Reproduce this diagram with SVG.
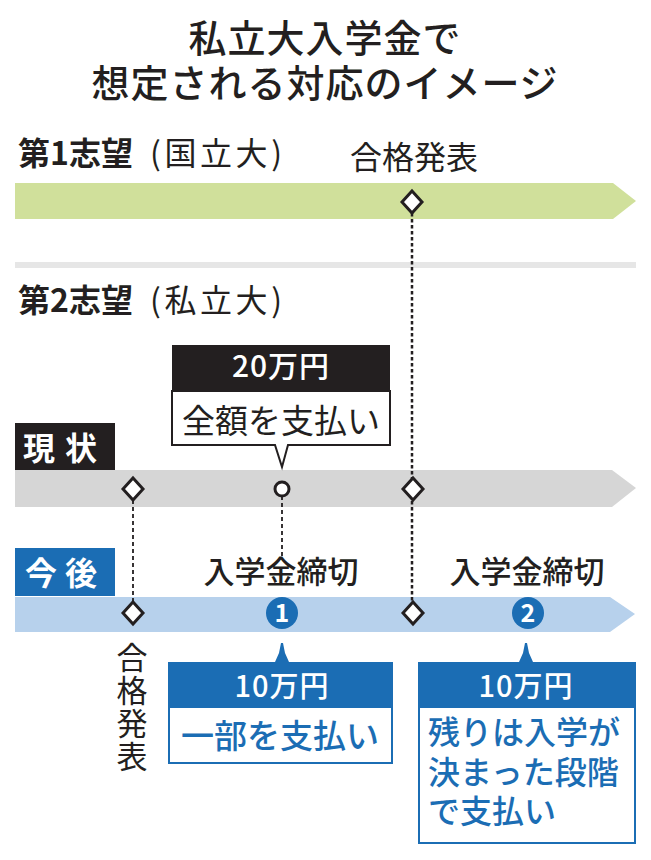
<svg xmlns="http://www.w3.org/2000/svg" width="651" height="860" viewBox="0 0 651 860">
<defs>
<style>
text{font-family:"Noto Sans CJK JP","Noto Sans",sans-serif;fill:#231f20}
.t{font-size:38px;font-weight:500;text-anchor:middle}
.h{font-size:32px;font-weight:700}
.p{font-size:32px;font-weight:400}
.lab{font-size:32px;font-weight:400;text-anchor:middle}
.lab2{font-size:31px;font-weight:500;text-anchor:middle}
.w{fill:#fff}
.blue{fill:#1b6db4}
.dia{fill:#fff;stroke:#231f20;stroke-width:3;stroke-linejoin:miter}
.dot{fill:none;stroke:#231f20;stroke-width:2.5;stroke-dasharray:3.5 2.5}
.dash{fill:none;stroke:#231f20;stroke-width:1.8;stroke-dasharray:4 3}
</style>
<path id="d" d="M0,-11 L10,0 L0,11 L-10,0 Z"/>
</defs>
<rect width="651" height="860" fill="#fff"/>

<g id="title">
<text class="t" x="325" y="52" letter-spacing="1">私立大入学金で</text>
<text class="t" x="325" y="97" letter-spacing="1">想定される対応のイメージ</text>
</g>

<g id="track1">
<text class="h" x="18" y="165">第1志望</text>
<text class="p" x="150" y="165" textLength="132" lengthAdjust="spacing">(国立大)</text>
<text class="lab" x="414" y="169">合格発表</text>
<polygon points="15,183 613,183 636,201 613,219 15,219" fill="#d0e09b"/>
</g>

<rect id="separator" x="15" y="262" width="621" height="6" fill="#e6e6e6"/>

<g id="track2-label">
<text class="h" x="18" y="312">第2志望</text>
<text class="p" x="150" y="312" textLength="132" lengthAdjust="spacing">(私立大)</text>
</g>

<g id="current-bar">
<rect x="15" y="423" width="100" height="47" fill="#231f20"/>
<text class="h w" x="65" y="460" text-anchor="middle" letter-spacing="10">現状</text>
<polygon points="15,470 612,470 636,488 612,507 15,507" fill="#d6d6d6"/>
</g>

<g id="future-bar">
<rect x="15" y="548" width="100" height="48" fill="#1b6db4"/>
<text class="h w" x="65" y="585" text-anchor="middle" letter-spacing="8">今後</text>
<polygon points="15,597 610,597 635,614 610,632 15,632" fill="#b7d1ec"/>
</g>

<g id="connectors">
<line class="dot" x1="412" y1="213" x2="412" y2="602"/>
<line class="dash" x1="133" y1="500" x2="133" y2="602"/>
<line class="dash" x1="282" y1="496" x2="282" y2="556"/>
</g>

<g id="markers">
<use href="#d" class="dia" x="412" y="202"/>
<use href="#d" class="dia" x="133" y="489"/>
<use href="#d" class="dia" x="413" y="489"/>
<circle cx="282" cy="489" r="7" fill="#fff" stroke="#231f20" stroke-width="3"/>
<use href="#d" class="dia" x="133" y="613"/>
<use href="#d" class="dia" x="413" y="613"/>
</g>

<g id="box-20man">
<rect x="172" y="345" width="218" height="46" fill="#231f20"/>
<path d="M172,391 V445 H275 L282,467 L288,445 H390 V391 Z" fill="#fff" stroke="#231f20" stroke-width="2"/>
<text class="w" x="281" y="377" font-size="30" font-weight="500" text-anchor="middle" letter-spacing="1">20万円</text>
<text x="281" y="433" font-size="33" font-weight="400" text-anchor="middle">全額を支払い</text>
</g>

<g id="deadline1">
<text class="lab2" x="281" y="583">入学金締切</text>
<circle cx="282" cy="613" r="16" fill="#1b6db4"/>
<text class="w" x="282" y="622" font-size="25" font-weight="700" text-anchor="middle">1</text>
</g>

<g id="deadline2">
<text class="lab2" x="527" y="583">入学金締切</text>
<circle cx="528" cy="613" r="16" fill="#1b6db4"/>
<text class="w" x="528" y="622" font-size="25" font-weight="700" text-anchor="middle">2</text>
</g>

<g id="pass-vertical">
<text x="132" y="642" font-size="31" font-weight="400" writing-mode="vertical-rl" letter-spacing="2">合格発表</text>
</g>

<g id="box-10man-1">
<path d="M275,662 L279,653 L281,643 L283,643 L285,653 L289,662 Z" fill="#1b6db4"/>
<rect x="168" y="662" width="225" height="45" fill="#1b6db4"/>
<rect x="169" y="707" width="223" height="56" fill="#fff" stroke="#1b6db4" stroke-width="2"/>
<text class="w" x="282" y="697" font-size="29" font-weight="500" text-anchor="middle" letter-spacing="1">10万円</text>
<text class="blue" x="280" y="748" font-size="33" font-weight="500" text-anchor="middle">一部を支払い</text>
</g>

<g id="box-10man-2">
<path d="M519,662 L523,653 L525,643 L527,643 L529,653 L533,662 Z" fill="#1b6db4"/>
<rect x="418" y="662" width="218" height="45" fill="#1b6db4"/>
<rect x="419" y="707" width="216" height="136" fill="#fff" stroke="#1b6db4" stroke-width="2"/>
<text class="w" x="526" y="697" font-size="29" font-weight="500" text-anchor="middle" letter-spacing="1">10万円</text>
<text class="blue" x="428" y="744" font-size="32" font-weight="500">残りは入学が</text>
<text class="blue" x="428" y="784" font-size="32" font-weight="500">決まった段階</text>
<text class="blue" x="428" y="823" font-size="32" font-weight="500">で支払い</text>
</g>
</svg>
